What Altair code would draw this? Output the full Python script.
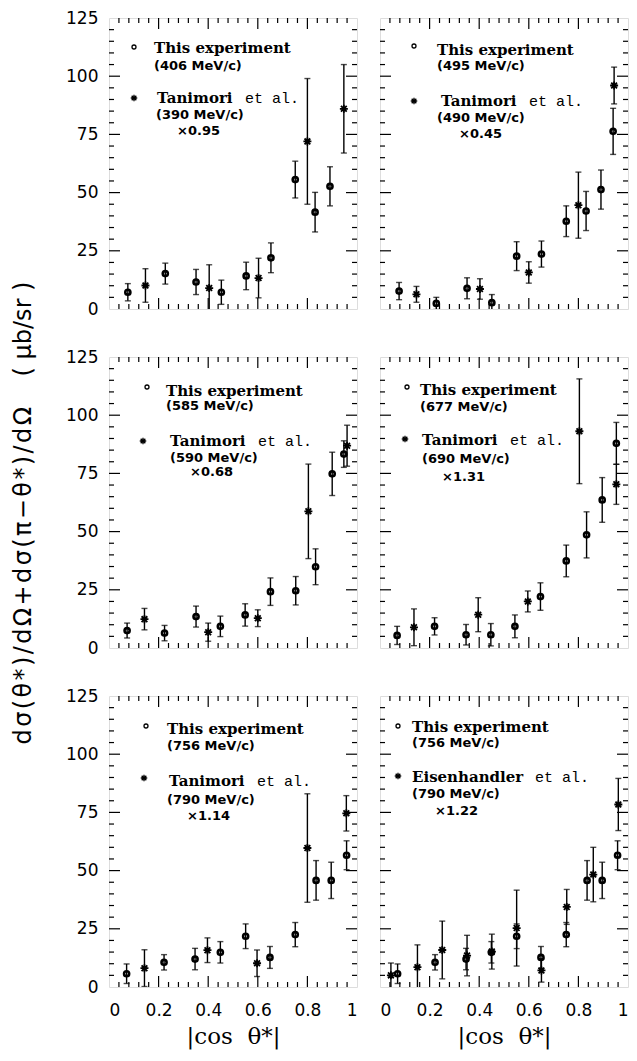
import altair as alt
import pandas as pd

# ---------------------------------------------------------------- data
# |cos theta*|, cross section (ub/sr) and its error for every measurement

# 406 MeV/c, this experiment
exp406_cos = [0.076, 0.227, 0.351, 0.453, 0.553, 0.653, 0.751, 0.831, 0.891]
exp406_val = [7.2, 15.2, 11.6, 7.2, 14.2, 22.0, 55.6, 41.6, 52.7]
exp406_err = [3.7, 4.5, 5.4, 5.2, 5.9, 6.4, 7.9, 8.5, 8.4]
# Tanimori et al., 390 MeV/c (x0.95)
tan390_cos = [0.147, 0.404, 0.603, 0.800, 0.947]
tan390_val = [10.1, 9.0, 13.3, 72.0, 86.0]
tan390_err = [7.2, 10.0, 8.5, 27.0, 19.0]

# 495 MeV/c, this experiment
exp495_cos = [0.077, 0.227, 0.351, 0.451, 0.551, 0.651, 0.751, 0.831, 0.891, 0.940]
exp495_val = [7.7, 2.4, 8.9, 2.7, 22.7, 23.6, 37.7, 42.1, 51.3, 76.3]
exp495_err = [3.7, 2.6, 4.5, 3.5, 6.2, 5.6, 6.6, 8.4, 8.4, 9.9]
# Tanimori et al., 490 MeV/c (x0.45)
tan490_cos = [0.147, 0.403, 0.600, 0.800, 0.944]
tan490_val = [6.3, 8.6, 15.7, 44.6, 96.0]
tan490_err = [3.4, 4.4, 4.6, 14.2, 7.9]

# 585 MeV/c, this experiment
exp585_cos = [0.073, 0.224, 0.351, 0.449, 0.549, 0.651, 0.753, 0.833, 0.900, 0.947]
exp585_val = [7.5, 6.4, 13.5, 9.3, 14.2, 24.2, 24.6, 34.9, 74.8, 83.3]
exp585_err = [3.2, 3.3, 4.5, 4.4, 4.8, 5.9, 6.1, 7.7, 9.3, 5.7]
# Tanimori et al., 590 MeV/c (x0.68)
tan590_cos = [0.143, 0.400, 0.600, 0.804, 0.960]
tan590_val = [12.4, 6.8, 12.8, 58.7, 86.9]
tan590_err = [4.6, 3.9, 3.6, 20.3, 8.8]

# 677 MeV/c, this experiment
exp677_cos = [0.069, 0.220, 0.347, 0.447, 0.544, 0.647, 0.751, 0.833, 0.896, 0.953]
exp677_val = [5.4, 9.3, 5.7, 5.7, 9.3, 22.1, 37.4, 48.6, 63.6, 87.9]
exp677_err = [3.9, 3.7, 4.4, 4.8, 4.9, 5.9, 6.8, 9.9, 9.6, 9.0]
# Tanimori et al., 690 MeV/c (x1.31)
tan690_cos = [0.137, 0.396, 0.596, 0.804, 0.953]
tan690_val = [8.9, 14.3, 20.0, 93.1, 70.3]
tan690_err = [7.9, 7.3, 4.5, 22.5, 8.6]

# 756 MeV/c, this experiment
exp756_cos = [0.071, 0.222, 0.347, 0.449, 0.551, 0.649, 0.751, 0.835, 0.896, 0.958]
exp756_val = [5.7, 10.6, 12.0, 14.9, 21.8, 12.7, 22.5, 45.8, 45.8, 56.6]
exp756_err = [4.2, 3.3, 4.6, 4.6, 5.3, 4.7, 5.2, 8.5, 7.8, 6.2]
# Tanimori et al., 790 MeV/c (x1.14)
tan790_cos = [0.143, 0.397, 0.597, 0.800, 0.957]
tan790_val = [8.1, 15.8, 10.2, 59.7, 74.6]
tan790_err = [7.9, 5.3, 5.7, 23.3, 7.6]
# Eisenhandler et al., 790 MeV/c (x1.22)
eis790_cos = [0.044, 0.151, 0.251, 0.351, 0.451, 0.551, 0.651, 0.753, 0.860, 0.961]
eis790_val = [5.0, 8.5, 15.9, 13.5, 15.2, 25.3, 7.1, 34.4, 48.3, 78.4]
eis790_err = [5.3, 9.6, 12.4, 8.7, 7.5, 16.3, 5.0, 7.5, 11.7, 11.2]

# axis labels and frame ticks
X_LABELS = [0, 0.2, 0.4, 0.6, 0.8, 1]
Y_LABELS = [0, 25, 50, 75, 100, 125]
X_MAJOR = [0.2, 0.4, 0.6, 0.8]
X_MINOR = [round(0.04 * i, 2) for i in range(1, 25) if i % 5]
Y_MAJOR = [25, 50, 75, 100]
Y_MINOR = [5 * i for i in range(1, 25) if i % 5]

# ---------------------------------------------------------------- style
W, H = 248, 291
MAJ, MIN = 11, 5
XS = alt.Scale(domain=[0, 1], nice=False, zero=False)
YS = alt.Scale(domain=[0, 125], nice=False, zero=False)
STAR = "M-1,0L1,0M0,-1L0,1M-0.72,-0.72L0.72,0.72M-0.72,0.72L0.72,-0.72"
SANS = "DejaVu Sans"
SERIF = "DejaVu Serif"
MONO = "Liberation Mono"
HAIR = "\u200a"
NB = "\u00a0"
YTITLE = HAIR.join("dσ(θ*)/dΩ+dσ(π−θ*)/dΩ") + NB * 4 + "(" + NB + "μb/sr" + NB + ")"
XTITLE = "|cos" + NB * 2 + "θ*|"
ONE = pd.DataFrame({"k": [0]})


def make_df(cos, val, err):
    return pd.DataFrame({"cos": cos, "val": val, "err": err})


def frame_ticks(xaxis, yaxis):
    layers = []
    for vals, ln in ((X_MAJOR, MAJ), (X_MINOR, MIN)):
        d = pd.DataFrame({"t": vals})
        x = alt.X("t:Q", scale=XS, axis=xaxis)
        layers.append(alt.Chart(d).mark_rule(color="black", strokeWidth=1.2)
                      .encode(x=x, y=alt.value(H), y2=alt.value(H - ln)))
        layers.append(alt.Chart(d).mark_rule(color="black", strokeWidth=1.2)
                      .encode(x=x, y=alt.value(0), y2=alt.value(ln)))
    for vals, ln in ((Y_MAJOR, MAJ), (Y_MINOR, MIN)):
        d = pd.DataFrame({"t": vals})
        y = alt.Y("t:Q", scale=YS, axis=yaxis)
        layers.append(alt.Chart(d).mark_rule(color="black", strokeWidth=1.2)
                      .encode(y=y, x=alt.value(0), x2=alt.value(ln)))
        layers.append(alt.Chart(d).mark_rule(color="black", strokeWidth=1.2)
                      .encode(y=y, x=alt.value(W), x2=alt.value(W - ln)))
    return layers


def measurements(df, kind, xaxis, yaxis):
    base = alt.Chart(df).transform_calculate(
        lo="datum.val - datum.err", hi="datum.val + datum.err")
    x = alt.X("cos:Q", scale=XS, axis=xaxis)
    layers = [
        base.mark_rule(color="black", strokeWidth=1.4, clip=True).encode(
            x=x, y=alt.Y("lo:Q", scale=YS, axis=yaxis), y2="hi:Q"),
        base.mark_tick(orient="horizontal", size=6, thickness=1.4, color="black", clip=True)
        .encode(x=x, y=alt.Y("lo:Q", scale=YS, axis=yaxis)),
        base.mark_tick(orient="horizontal", size=6, thickness=1.4, color="black", clip=True)
        .encode(x=x, y=alt.Y("hi:Q", scale=YS, axis=yaxis)),
    ]
    y = alt.Y("val:Q", scale=YS, axis=yaxis)
    if kind == "exp":
        layers.append(base.mark_point(shape="circle", filled=False, size=26, strokeWidth=2.6,
                                      color="black", opacity=1, clip=True).encode(x=x, y=y))
    else:
        layers.append(base.mark_point(shape=STAR, filled=False, size=64, strokeWidth=1.8,
                                      color="black", opacity=1, clip=True).encode(x=x, y=y))
        layers.append(base.mark_point(shape="circle", filled=True, size=12,
                                      color="black", opacity=1, clip=True).encode(x=x, y=y))
    return layers


def label(txt, px, py, font, size, weight="bold"):
    return alt.Chart(ONE).mark_text(text=txt, font=font, fontSize=size, fontWeight=weight,
                                    align="left", baseline="middle", color="black").encode(
        x=alt.value(px), y=alt.value(py))


def legend(lg):
    sx, sy = lg["sym"]
    tx, ty = lg["star"]
    return [
        alt.Chart(ONE).mark_point(shape="circle", filled=False, size=16, strokeWidth=1.3,
                                  color="black", opacity=1).encode(x=alt.value(sx), y=alt.value(sy)),
        alt.Chart(ONE).mark_point(shape=STAR, filled=False, size=42, strokeWidth=1.3,
                                  color="black", opacity=1).encode(x=alt.value(tx), y=alt.value(ty)),
        label("This experiment", *lg["exp"], SERIF, 15),
        label(lg["mom"], *lg["mom_at"], SANS, 13),
        label(lg["name"], *lg["name_at"], SERIF, 15),
        label("et al.", *lg["etal_at"], MONO, 15, "normal"),
        label(lg["refmom"], *lg["refmom_at"], SANS, 13),
        label(lg["factor"], *lg["factor_at"], SANS, 13),
    ]


def panel(exp_df, ref_df, lg, left=False, bottom=False, ytitle=False):
    if bottom:
        xaxis = alt.Axis(values=X_LABELS, format="~g", ticks=False, domain=False, grid=False,
                         labelPadding=15, labelFont=SANS, labelFontSize=17, labelColor="black",
                         title=XTITLE, titleFont=SERIF, titleFontSize=23, titleFontWeight="normal",
                         titleColor="black", titlePadding=7)
    else:
        xaxis = None
    if left:
        yaxis = alt.Axis(values=Y_LABELS, ticks=False, domain=False, grid=False,
                         labelPadding=11, labelFont=SANS, labelFontSize=17, labelColor="black",
                         title=YTITLE if ytitle else None, titleFont=SANS, titleFontSize=24,
                         titleFontWeight="normal", titleColor="black", titlePadding=30,
                         titleY=H / 2 + 10)
    else:
        yaxis = None
    layers = frame_ticks(xaxis, yaxis)
    layers += measurements(exp_df, "exp", xaxis, yaxis)
    layers += measurements(ref_df, "ref", xaxis, yaxis)
    layers += legend(lg)
    return alt.layer(*layers).properties(width=W, height=H)


def lg_pos(mom, name, refmom, factor, sym, exp, mom_at, star, name_at, etal_at, refmom_at, factor_at):
    return dict(mom=mom, name=name, refmom=refmom, factor=factor, sym=sym, exp=exp,
                mom_at=mom_at, star=star, name_at=name_at, etal_at=etal_at,
                refmom_at=refmom_at, factor_at=factor_at)


p1 = panel(make_df(exp406_cos, exp406_val, exp406_err), make_df(tan390_cos, tan390_val, tan390_err),
           lg_pos("(406 MeV/c)", "Tanimori", "(390 MeV/c)", "×0.95",
                  (25, 29), (45, 30), (45, 48), (25, 80), (48, 80), (136, 80), (47, 97), (68, 113)),
           left=True)
p2 = panel(make_df(exp495_cos, exp495_val, exp495_err), make_df(tan490_cos, tan490_val, tan490_err),
           lg_pos("(495 MeV/c)", "Tanimori", "(490 MeV/c)", "×0.45",
                  (34, 28), (57, 32), (57, 48), (34, 83), (61, 83), (149, 83), (57, 100), (79, 116)))
p3 = panel(make_df(exp585_cos, exp585_val, exp585_err), make_df(tan590_cos, tan590_val, tan590_err),
           lg_pos("(585 MeV/c)", "Tanimori", "(590 MeV/c)", "×0.68",
                  (38, 30), (57, 34), (57, 49), (34, 84), (61, 84), (149, 84), (61, 101), (81, 115)),
           left=True, ytitle=True)
p4 = panel(make_df(exp677_cos, exp677_val, exp677_err), make_df(tan690_cos, tan690_val, tan690_err),
           lg_pos("(677 MeV/c)", "Tanimori", "(690 MeV/c)", "×1.31",
                  (27, 30), (40, 33), (40, 50), (25, 82), (42, 83), (130, 83), (42, 102), (62, 120)))
p5 = panel(make_df(exp756_cos, exp756_val, exp756_err), make_df(tan790_cos, tan790_val, tan790_err),
           lg_pos("(756 MeV/c)", "Tanimori", "(790 MeV/c)", "×1.14",
                  (37, 30), (58, 33), (58, 50), (35, 82), (60, 85), (148, 85), (58, 104), (78, 120)),
           left=True, bottom=True)
p6 = panel(make_df(exp756_cos, exp756_val, exp756_err), make_df(eis790_cos, eis790_val, eis790_err),
           lg_pos("(756 MeV/c)", "Eisenhandler", "(790 MeV/c)", "×1.22",
                  (18, 30), (32, 31), (32, 47), (18, 80), (32, 81), (155, 81), (32, 98), (55, 115)),
           bottom=True)

chart = alt.concat(p1, p2, p3, p4, p5, p6, columns=2, bounds="flush",
                   spacing={"row": 48, "column": 23}).properties(
    padding={"left": 11, "top": 8, "right": 2, "bottom": 2}
).configure_view(stroke="black", strokeWidth=1.6, fill="white").configure(background="white")

chart.save("out.html", embed_options={"renderer": "svg", "actions": False})
